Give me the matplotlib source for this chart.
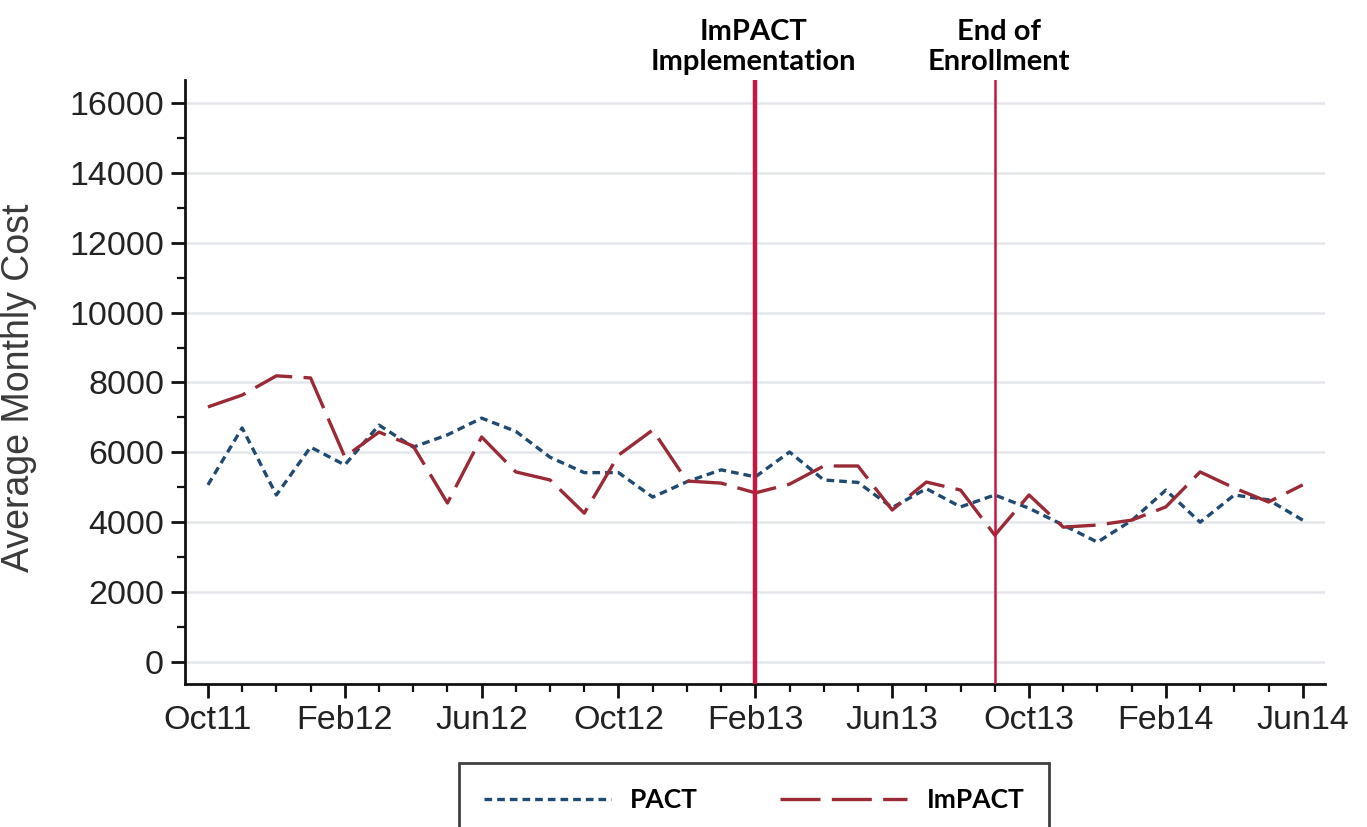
import matplotlib
matplotlib.use("Agg")
import matplotlib.pyplot as plt
import matplotlib.transforms as mtransforms
from matplotlib.ticker import MultipleLocator, FixedLocator

# month index 0 = Oct11 ... 32 = Jun14
months = list(range(33))
tick_pos = [0, 4, 8, 12, 16, 20, 24, 28, 32]
tick_labels = ["Oct11", "Feb12", "Jun12", "Oct12", "Feb13", "Jun13", "Oct13", "Feb14", "Jun14"]

pact = [5070, 6700, 4780, 6150, 5640, 6780, 6150, 6500, 6980, 6600, 5860,
        5420, 5420, 4720, 5160, 5500, 5300, 6010, 5210, 5140, 4420, 4960,
        4440, 4780, 4400, 3920, 3430, 4050, 4920, 4000, 4780, 4640, 4060]
impact = [7300, 7640, 8190, 8130, 5870, 6580, 6180, 4550, 6440, 5440, 5210,
          4260, 5920, 6640, 5180, 5120, 4840, 5090, 5610, 5610, 4350, 5150,
          4920, 3630, 4780, 3860, 3920, 4060, 4440, 5440, 4980, 4580, 5070]

events = [16, 23]
event_labels = ["ImPACT\nImplementation", "End of\nEnrollment"]

TEXT = "#222222"
BLUE = "#1F4A72"
MAROON = "#9A2A35"
VLINE = "#C8173F"

plt.rcParams["font.family"] = ["Liberation Sans", "DejaVu Sans"]

fig = plt.figure(figsize=(13.67, 8.27), dpi=100)
ax = fig.add_axes([0.1353, 0.1729, 0.8337, 0.7304])

ax.plot(months, pact, color=BLUE, lw=2.4, dashes=(2.3, 1.5), label="PACT")
ax.plot(months, impact, color=MAROON, lw=2.4, dashes=(12, 3.4), label="ImPACT")

ax.axvline(events[0], color=VLINE, lw=3.2, zorder=3)
ax.axvline(events[1], color=VLINE, lw=1.8, zorder=3)

trans = mtransforms.blended_transform_factory(ax.transData, ax.transAxes)
offsets = [-0.05, 0.12]
for x, lab, dx in zip(events, event_labels, offsets):
    ax.text(x + dx, 1.008, lab, transform=trans, ha="center", va="bottom",
            fontsize=21, fontweight="bold", family=["Lato", "DejaVu Sans"],
            linespacing=1.2, color="black")

ax.set_xlim(-0.672, 32.64)
ax.set_ylim(-630, 16658)
ax.set_xticks(tick_pos)
ax.set_xticklabels(tick_labels)
ax.xaxis.set_minor_locator(FixedLocator(months))
ax.set_yticks(range(0, 16001, 2000))
ax.yaxis.set_minor_locator(MultipleLocator(1000))

ax.grid(axis="y", color="#E4E7EA", lw=1.8)
ax.set_axisbelow(True)
for side in ["top", "right"]:
    ax.spines[side].set_visible(False)
for side in ["left", "bottom"]:
    ax.spines[side].set_linewidth(2)
    ax.spines[side].set_color("#111111")

ax.tick_params(which="major", length=10, width=2, labelsize=24.5, colors="#111111",
               labelcolor=TEXT, pad=5)
ax.tick_params(which="minor", length=6, width=1.6, colors="#111111")

ax.set_ylabel("Average Monthly Cost", fontsize=27, color="#3a3a3a")
ax.yaxis.set_label_coords(-0.1298, 0.49)

leg = fig.legend(loc="upper center", bbox_to_anchor=(0.5516, 0.0774), ncol=2,
                 frameon=True, fancybox=False, handlelength=4.8,
                 handletextpad=0.75, columnspacing=3.1, borderpad=0.95,
                 borderaxespad=0,
                 prop={"family": ["Lato", "DejaVu Sans"], "weight": "bold", "size": 19})
leg.get_frame().set_edgecolor("#111111")
leg.get_frame().set_linewidth(2)

fig.savefig("out.png", dpi=100)
